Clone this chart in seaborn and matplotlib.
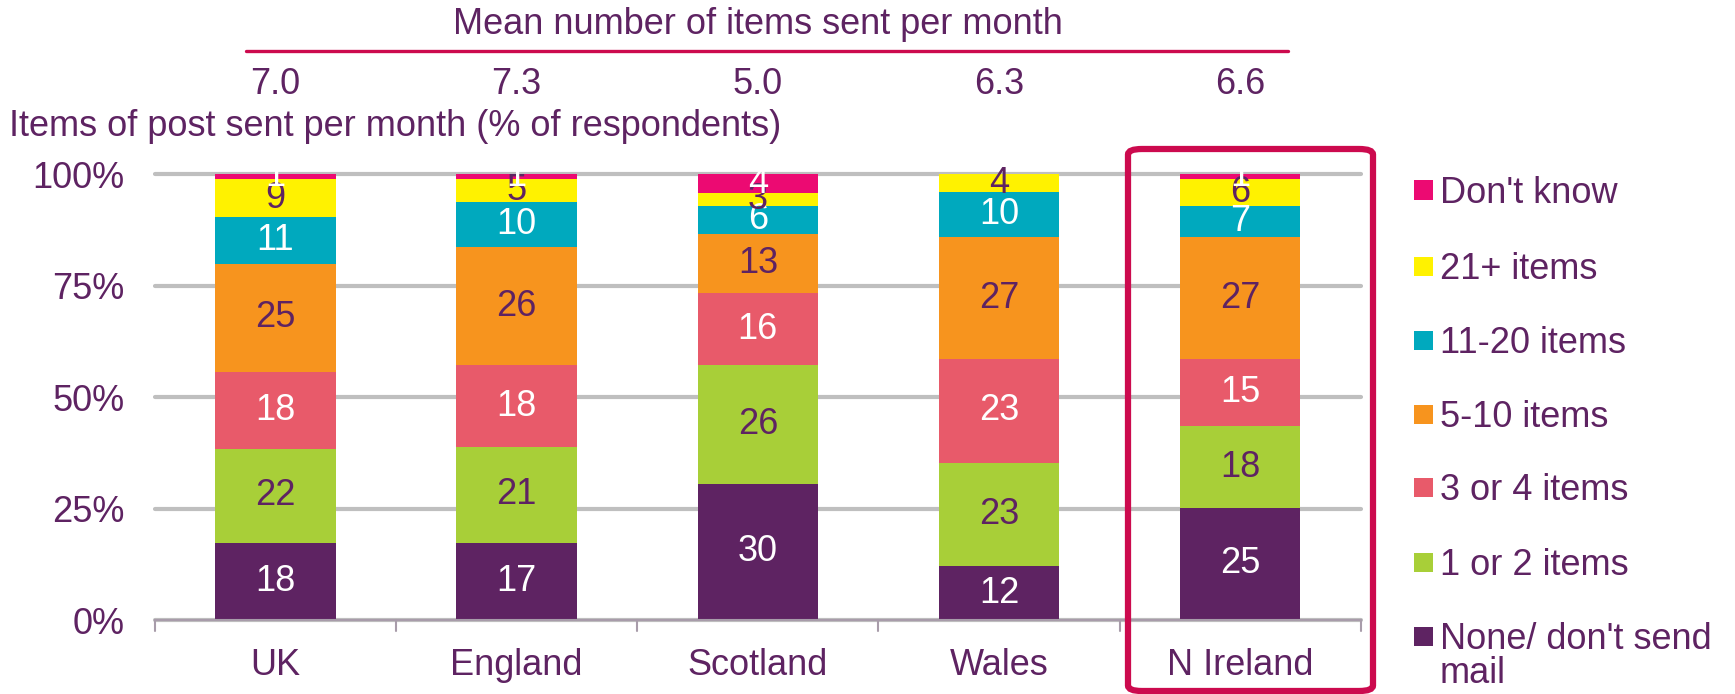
import numpy as np
import pandas as pd
import matplotlib
matplotlib.use("Agg")
import matplotlib.pyplot as plt
import seaborn as sns
from matplotlib.patches import Rectangle, FancyBboxPatch
from matplotlib.lines import Line2D

# Data
nations = ["UK", "England", "Scotland", "Wales", "N Ireland"]
mean_items = ["7.0", "7.3", "5.0", "6.3", "6.6"]
categories = ["None/ don't send\nmail", "1 or 2 items", "3 or 4 items", "5-10 items",
              "11-20 items", "21+ items", "Don't know"]
none_mail = [18, 17, 30, 12, 25]
one_two = [22, 21, 26, 23, 18]
three_four = [18, 18, 16, 23, 15]
five_ten = [25, 26, 13, 27, 27]
eleven_twenty = [11, 10, 6, 10, 7]
twenty_one_plus = [9, 5, 3, 4, 6]
dont_know = [1, 1, 4, 0, 1]

series = [none_mail, one_two, three_four, five_ten, eleven_twenty, twenty_one_plus, dont_know]

PURPLE = "#5E2362"
CRIMSON = "#CC0A4E"
colors = ["#5E2362", "#A8CF38", "#E85A6A", "#F7941E", "#00A9BE", "#FFF200", "#EC0A72"]
text_colors = ["white", PURPLE, "white", PURPLE, "white", PURPLE, "white"]
FS = 26

sns.set_theme(style="white")
plt.rcParams["font.family"] = ["Liberation Sans", "DejaVu Sans"]

vals = np.array(series, dtype=float)
shares = vals / vals.sum(axis=0)
cum = np.cumsum(shares, axis=0)

fig = plt.figure(figsize=(17.35, 6.94), dpi=100)
ax = fig.add_axes([0.0893, 0.1066, 0.695, 0.642])

# stacked bars: draw cumulative totals from the top category down
for i in reversed(range(len(series))):
    df = pd.DataFrame({"nation": nations, "cum": cum[i]})
    sns.barplot(data=df, x="nation", y="cum", color=colors[i], saturation=1,
                width=0.5, linewidth=0, ax=ax, zorder=2)

# segment labels
for i, s in enumerate(series):
    for j, v in enumerate(s):
        if v <= 0:
            continue
        ymid = cum[i, j] - shares[i, j] / 2
        ax.text(j, ymid, f"{v}", ha="center", va="center", fontsize=FS,
                color=text_colors[i], zorder=3)

ax.set_xlim(-0.5, 4.5)
ax.set_ylim(0, 1)
ax.set_yticks([0, 0.25, 0.5, 0.75, 1.0])
ax.set_yticklabels(["0%", "25%", "50%", "75%", "100%"])
ax.yaxis.grid(True, color="#BFBFBF", linewidth=3)
for gl in ax.get_ygridlines():
    gl.set_clip_on(False)
ax.set_axisbelow(True)
ax.tick_params(axis="y", length=0, pad=22, labelsize=FS, labelcolor=PURPLE)
ax.tick_params(axis="x", length=0, pad=20, labelsize=FS, labelcolor=PURPLE)
ax.set_xlabel("")
ax.set_ylabel("")
for side in ["left", "right", "top"]:
    ax.spines[side].set_visible(False)
ax.spines["bottom"].set_color("#A89CAA")
ax.spines["bottom"].set_linewidth(1.5)

# boundary ticks below the axis
for b in np.arange(-0.5, 5.0, 1.0):
    ax.plot([b, b], [0, -0.025], color="#A89CAA", linewidth=1.5, clip_on=False)

# mean numbers header
trans = ax.get_xaxis_transform()
for j, m in enumerate(mean_items):
    ax.text(j, 1 + (174 - 84) / 446, m, transform=trans, ha="center", va="center",
            fontsize=FS, color=PURPLE)
ax.add_line(Line2D([-0.123, 4.20], [1 + (174 - 50) / 446] * 2, transform=trans,
                   color=CRIMSON, linewidth=2.4, clip_on=False))
ax.text(2, 1 + (174 - 24) / 446, "Mean number of items sent per month", transform=trans,
        ha="center", va="center", fontsize=FS, color=PURPLE)

fig.text(9 / 1735, 1 - 126 / 694, "Items of post sent per month (% of respondents)",
         ha="left", va="center", fontsize=FS, color=PURPLE)

# highlight box around N Ireland
box = FancyBboxPatch((1128 / 1735, 3 / 694), (1373 - 1128) / 1735, (691 - 149) / 694,
                     boxstyle="round,pad=0,rounding_size=0.008", transform=fig.transFigure,
                     fill=False, edgecolor=CRIMSON, linewidth=4.5, clip_on=False)
fig.patches.append(box)

# legend, top entry first
legend_y = [190, 266, 340, 414, 487, 562, 636]
line_gap = 34
cap = 0.716 * FS * 100 / 72
for k, i in enumerate(reversed(range(len(categories)))):
    y = legend_y[k]
    fig.patches.append(Rectangle((1414 / 1735, 1 - (y + 9.5) / 694), 19 / 1735, 19 / 694,
                                 transform=fig.transFigure, facecolor=colors[i],
                                 edgecolor="none"))
    for n, line in enumerate(categories[i].split("\n")):
        base = y + cap / 2 + n * line_gap
        fig.text(1440 / 1735, 1 - base / 694, line, ha="left", va="baseline",
                 fontsize=FS, color=PURPLE)

fig.savefig("out.png", dpi=100)
